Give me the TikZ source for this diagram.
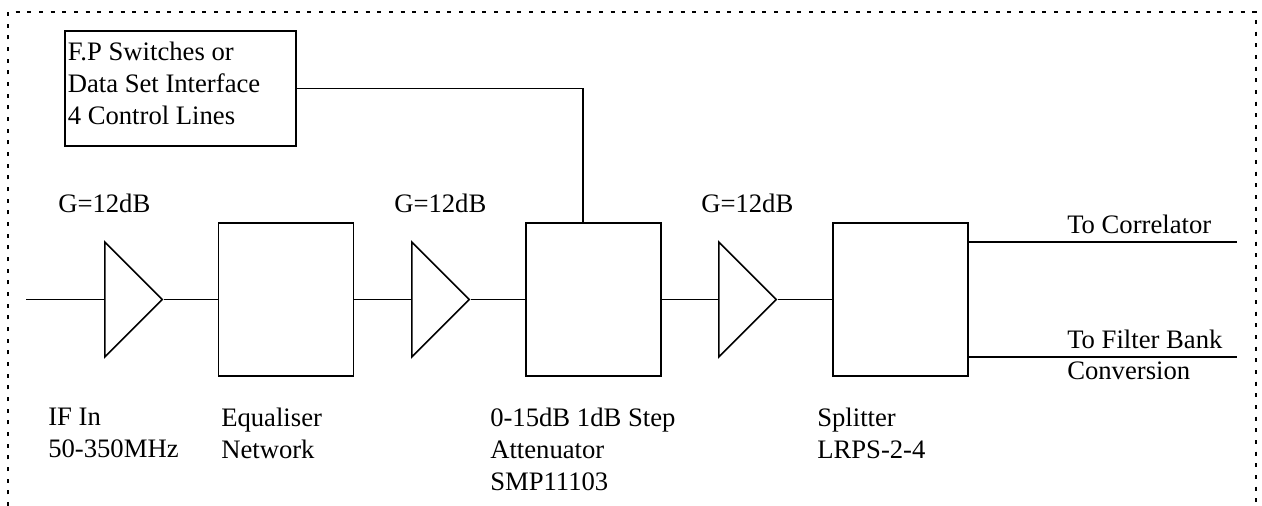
\documentclass[tikz,border=0pt]{standalone}
\usepackage{fontspec}
\setmainfont{Liberation Serif}
\usetikzlibrary{shapes.geometric}
\begin{document}
\begin{tikzpicture}[
    x=0.75pt, y=-0.75pt,
    block/.style={draw, line width=1.2pt, minimum width=101pt, minimum height=114.75pt,
                  inner sep=0pt},
    amp/.style={draw, line width=1.2pt, isosceles triangle, isosceles triangle stretches,
                shape border rotate=0, minimum width=86pt, minimum height=43pt, inner sep=0pt,
                anchor=lower side},
    panel/.style={draw, line width=1.2pt, minimum width=173pt, minimum height=86pt,
                  inner sep=0pt},
    lbl/.style={anchor=north west, inner sep=0pt, align=left, font=\fontsize{20}{24}\selectfont},
    wire/.style={draw, line width=1.2pt},
    frame/.style={draw, line width=1.4pt, dash pattern=on 3pt off 5.75pt}
  ]
    \useasboundingbox (0,0) rectangle (1262,506);
    % outer frame, open at the bottom
    \coordinate (fsw) at (8,506);
    \coordinate (fnw) at (8,12);
    \coordinate (fne) at (1256,12);
    \coordinate (fse) at (1256,506);
    \draw[frame] (fsw) -- (fnw) -- (fne) -- (fse);

    \node[block] (eq)    at (286,299.5) {};
    \node[block] (att)   at (593.5,299.5) {};
    \node[block] (split) at (900.5,299.5) {};
    \node[amp]   (a1)    at (104,299.5) {};
    \node[amp]   (a2)    at (411,299.5) {};
    \node[amp]   (a3)    at (718,299.5) {};
    \node[panel] (ctl)   at (180.5,88.5) {};

    \coordinate (in)   at (26,299.5);
    \coordinate (corr) at (1237,242);
    \coordinate (bank) at (1237,357);
    \coordinate (tap)  at (583,223);

    \draw[wire] (in) -- (a1.lower side);
    \draw[wire] (a1.apex) -- (eq.west);
    \draw[wire] (eq.east) -- (a2.lower side);
    \draw[wire] (a2.apex) -- (att.west);
    \draw[wire] (att.east) -- (a3.lower side);
    \draw[wire] (a3.apex) -- (split.west);
    \draw[wire] (split.east |- corr) -- (corr);
    \draw[wire] (split.east |- bank) -- (bank);
    \draw[wire] (ctl.east) -| (tap);

    \node[lbl] (ctltext) at (67.5,42) {F.P Switches or\\Data Set Interface\\4 Control Lines};
    \node[lbl] (g1) at (58,194)  {G=12dB};
    \node[lbl] (g2) at (394,194) {G=12dB};
    \node[lbl] (g3) at (701,194) {G=12dB};
    \node[lbl] (tocorr) at (1067,215) {To Correlator};
    \node[lbl] (tobank) at (1067,330) {To Filter Bank};
    \node[lbl] (conv)   at (1067,362) {Conversion};
    \node[lbl] (ifin) at (48,408)  {IF In\\50-350MHz};
    \node[lbl] (eqn)  at (221,408) {Equaliser\\Network};
    \node[lbl] (attn) at (490,408) {0-15dB 1dB Step\\Attenuator\\SMP11103};
    \node[lbl] (spn)  at (817,408) {Splitter\\LRPS-2-4};
  \end{tikzpicture}
\end{document}
